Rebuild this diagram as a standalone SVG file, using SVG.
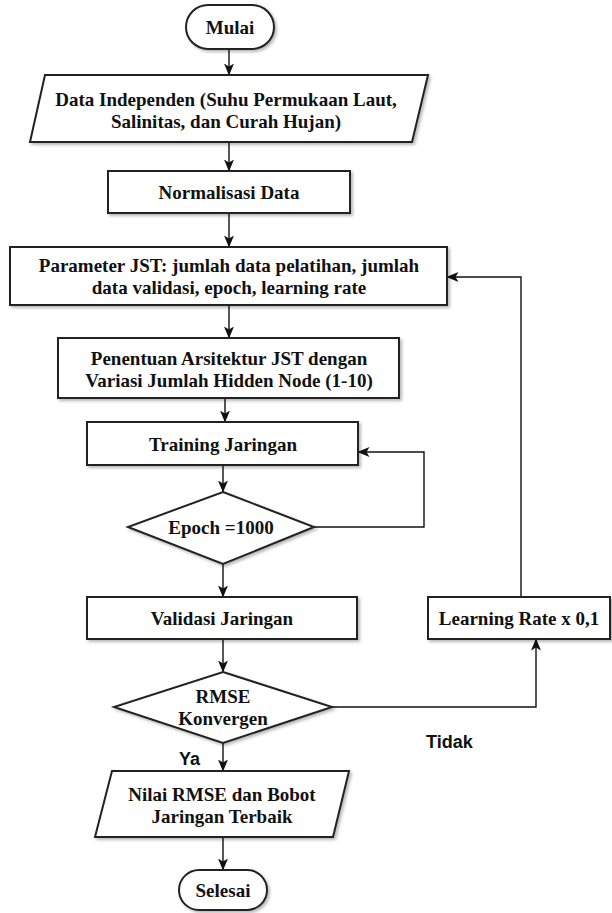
<svg xmlns="http://www.w3.org/2000/svg" width="612" height="913" viewBox="0 0 612 913">
  <defs>
    <filter id="shadow" x="-10%" y="-20%" width="120%" height="150%">
      <feDropShadow dx="2" dy="2" stdDeviation="1.6" flood-color="#000" flood-opacity="0.28"/>
    </filter>
    <marker id="arrow" viewBox="0 0 12 10" refX="11.5" refY="5" markerWidth="12" markerHeight="10" markerUnits="userSpaceOnUse" orient="auto">
      <path d="M0,0 L12,5 L0,10 L3,5 Z" fill="#111"/>
    </marker>
    <style>
      .shape { fill: #fff; stroke: #222; stroke-width: 2; filter: url(#shadow); }
      .label { font-family: "Liberation Serif", "Times New Roman", serif; font-weight: bold; font-size: 19px; fill: #111; text-anchor: middle; }
      .branch { font-family: "Liberation Sans", Arial, sans-serif; font-weight: bold; font-size: 18px; fill: #111; }
      .conn { fill: none; stroke: #111; stroke-width: 1.4; marker-end: url(#arrow); }
    </style>
  </defs>

  <rect width="612" height="913" fill="#fff"/>

  <!-- connectors -->
  <g id="connectors">
    <path class="conn" d="M229,49 V75"/>
    <path class="conn" d="M229,142 V171"/>
    <path class="conn" d="M229,213 V247"/>
    <path class="conn" d="M229,305 V338"/>
    <path class="conn" d="M225,398 V422"/>
    <path class="conn" d="M223,465 V492"/>
    <path class="conn" d="M223,564 V597"/>
    <path class="conn" d="M314,527 H424 V452 H358"/>
    <path class="conn" d="M223,639 V672"/>
    <path class="conn" d="M223,743 V771"/>
    <path class="conn" d="M223,837 V870"/>
    <path class="conn" d="M332,707 H536 V639"/>
    <path class="conn" d="M521,597 V277 H447"/>
  </g>

  <!-- nodes -->
  <g id="mulai">
    <rect class="shape" x="186" y="5" width="88" height="44" rx="22" ry="22"/>
    <text class="label" x="230" y="34">Mulai</text>
  </g>

  <g id="data-independen">
    <polygon class="shape" points="45,75 428,75 412,142 30,142"/>
    <text class="label" x="226" y="106">Data Independen (Suhu Permukaan Laut,</text>
    <text class="label" x="226" y="128">Salinitas, dan Curah Hujan)</text>
  </g>

  <g id="normalisasi">
    <rect class="shape" x="108" y="171" width="242" height="42"/>
    <text class="label" x="229" y="199">Normalisasi Data</text>
  </g>

  <g id="parameter">
    <rect class="shape" x="10" y="247" width="437" height="58"/>
    <text class="label" x="229" y="272">Parameter JST: jumlah data pelatihan, jumlah</text>
    <text class="label" x="229" y="294">data validasi, epoch, learning rate</text>
  </g>

  <g id="arsitektur">
    <rect class="shape" x="58" y="338" width="341" height="60"/>
    <text class="label" x="229" y="365">Penentuan Arsitektur JST dengan</text>
    <text class="label" x="229" y="387">Variasi Jumlah Hidden Node (1-10)</text>
  </g>

  <g id="training">
    <rect class="shape" x="87" y="422" width="271" height="43"/>
    <text class="label" x="223" y="451">Training Jaringan</text>
  </g>

  <g id="epoch">
    <polygon class="shape" points="223,492 314,527 223,564 128,527"/>
    <text class="label" x="221" y="534">Epoch =1000</text>
  </g>

  <g id="validasi">
    <rect class="shape" x="87" y="597" width="270" height="42"/>
    <text class="label" x="222" y="625">Validasi Jaringan</text>
  </g>

  <g id="learning-rate">
    <rect class="shape" x="428" y="597" width="182" height="42"/>
    <text class="label" x="519" y="625">Learning Rate x 0,1</text>
  </g>

  <g id="rmse">
    <polygon class="shape" points="223,672 332,707 223,743 114,707"/>
    <text class="label" x="223" y="703">RMSE</text>
    <text class="label" x="223" y="725">Konvergen</text>
  </g>

  <g id="hasil">
    <polygon class="shape" points="112,771 349,771 333,837 95,837"/>
    <text class="label" x="222" y="801">Nilai RMSE dan Bobot</text>
    <text class="label" x="222" y="823">Jaringan Terbaik</text>
  </g>

  <g id="selesai">
    <rect class="shape" x="179" y="870" width="88" height="40" rx="20" ry="20"/>
    <text class="label" x="223" y="897">Selesai</text>
  </g>

  <!-- branch labels -->
  <text class="branch" x="426" y="748">Tidak</text>
  <text class="branch" x="179" y="765">Ya</text>
</svg>
